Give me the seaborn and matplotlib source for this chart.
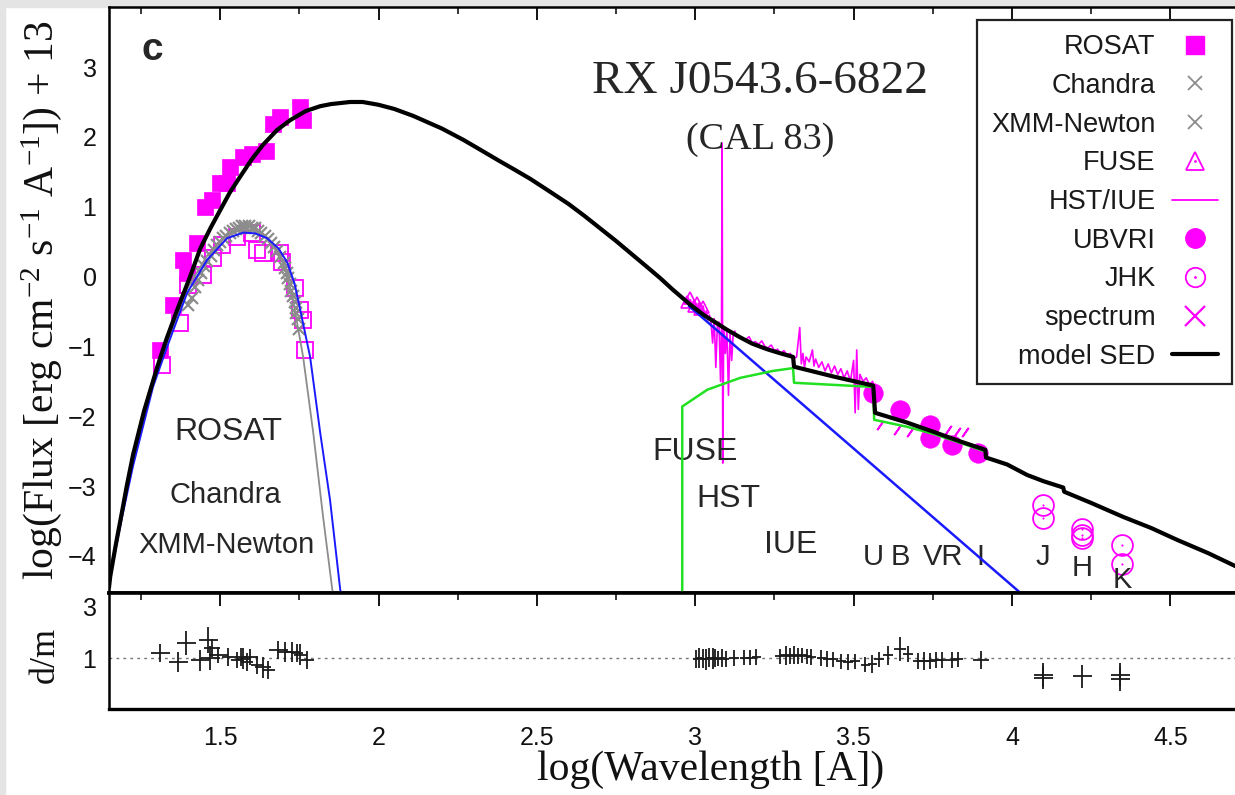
import numpy as np
import matplotlib
matplotlib.use("Agg")
import matplotlib.pyplot as plt
import seaborn as sns
from matplotlib.lines import Line2D
from matplotlib.patches import Rectangle
from matplotlib.ticker import MultipleLocator

# ---------------- data (log wavelength [A], log flux + 13) ----------------
model_x = [1.149, 1.153, 1.17, 1.19, 1.205, 1.225, 1.26, 1.301, 1.33, 1.364, 1.405, 1.437, 1.47,
           1.50, 1.53, 1.563, 1.60, 1.636, 1.68, 1.721, 1.77, 1.816, 1.85, 1.91, 1.95, 2.00,
           2.05, 2.11, 2.15, 2.20, 2.267, 2.32, 2.38, 2.43, 2.479, 2.54, 2.60, 2.65, 2.70, 2.75,
           2.80, 2.85, 2.889, 2.93, 2.984, 3.03, 3.069, 3.10, 3.142, 3.18, 3.227, 3.27, 3.309,
           3.312, 3.436, 3.562, 3.568, 3.669, 3.751, 3.837, 3.916, 3.918, 3.985, 4.048, 4.10,
           4.162, 4.165, 4.25, 4.351, 4.44, 4.522, 4.62, 4.717]
model_y = [-4.45, -4.29, -3.85, -3.37, -3.00, -2.55, -1.92, -1.30, -0.90, -0.48, 0.00, 0.40, 0.70,
           0.95, 1.20, 1.43, 1.68, 1.89, 2.10, 2.24, 2.37, 2.44, 2.47, 2.50, 2.50, 2.46,
           2.40, 2.30, 2.22, 2.12, 1.96, 1.82, 1.66, 1.53, 1.40, 1.22, 1.04, 0.87, 0.69, 0.51,
           0.32, 0.13, -0.02, -0.19, -0.40, -0.56, -0.67, -0.76, -0.87, -0.96, -1.04, -1.10, -1.15,
           -1.29, -1.43, -1.56, -1.95, -2.09, -2.22, -2.36, -2.48, -2.59, -2.69, -2.84, -2.93,
           -3.02, -3.08, -3.24, -3.44, -3.60, -3.77, -3.96, -4.17]

blue_left_x = [1.149, 1.153, 1.19, 1.225, 1.288, 1.333, 1.396, 1.459, 1.522, 1.573, 1.61, 1.648,
               1.685, 1.712, 1.735, 1.753, 1.784, 1.816, 1.847, 1.879, 1.885]
blue_left_y = [-4.40, -4.29, -3.45, -2.71, -1.58, -1.00, -0.23, 0.24, 0.55, 0.63, 0.62, 0.55,
               0.40, 0.20, -0.10, -0.48, -1.15, -2.24, -3.20, -4.48, -4.60]
blue_right_x = [2.98, 4.045]
blue_right_y = [-0.42, -4.60]

gray_x = [1.149, 1.153, 1.19, 1.225, 1.288, 1.333, 1.396, 1.459, 1.522, 1.573, 1.61, 1.648,
          1.685, 1.71, 1.73, 1.762, 1.794, 1.825, 1.854, 1.86]
gray_y = [-4.35, -4.25, -3.40, -2.66, -1.52, -0.94, -0.17, 0.30, 0.60, 0.68, 0.66, 0.56,
          0.36, 0.05, -0.33, -1.15, -2.24, -3.44, -4.48, -4.60]

green_x = [2.959, 2.959, 3.038, 3.142, 3.246, 3.309, 3.312, 3.562, 3.565, 3.669, 3.751, 3.837, 3.914]
green_y = [-4.60, -1.86, -1.62, -1.45, -1.35, -1.31, -1.52, -1.58, -2.05, -2.15, -2.25, -2.38, -2.50]

rosat_x = [1.311, 1.352, 1.383, 1.395, 1.427, 1.453, 1.475, 1.50, 1.522, 1.532, 1.573, 1.60,
           1.645, 1.667, 1.69, 1.753, 1.762]
rosat_y = [-1.05, -0.40, 0.24, 0.05, 0.48, 1.00, 1.10, 1.34, 1.34, 1.57, 1.71, 1.75,
           1.80, 2.19, 2.29, 2.43, 2.24]

rosat_open_x = [1.317, 1.374, 1.399, 1.446, 1.478, 1.506, 1.554, 1.601, 1.617, 1.636, 1.689,
                1.696, 1.737, 1.753, 1.762, 1.768]
rosat_open_y = [-1.26, -0.66, -0.12, 0.02, 0.27, 0.45, 0.57, 0.63, 0.38, 0.34, 0.34,
                0.21, -0.16, -0.48, -0.62, -1.05]

chandra_x = [1.40, 1.42, 1.44, 1.46, 1.48, 1.50, 1.52, 1.54, 1.56, 1.58, 1.60, 1.62, 1.64,
             1.66, 1.68, 1.70, 1.71, 1.72, 1.73, 1.74, 1.745, 1.75]
chandra_y = [-0.40, -0.15, 0.05, 0.22, 0.38, 0.50, 0.58, 0.65, 0.70, 0.72, 0.70, 0.66, 0.58,
             0.48, 0.36, 0.20, 0.05, -0.10, -0.28, -0.45, -0.60, -0.75]
xmm_x = [1.41, 1.43, 1.45, 1.47, 1.49, 1.51, 1.53, 1.55, 1.57, 1.59, 1.61, 1.63, 1.65, 1.67,
         1.69, 1.705, 1.715, 1.725, 1.735, 1.74]
xmm_y = [-0.30, -0.05, 0.15, 0.30, 0.45, 0.55, 0.62, 0.68, 0.73, 0.73, 0.69, 0.62, 0.54, 0.42,
         0.28, 0.12, -0.02, -0.20, -0.36, -0.52]

fuse_x = [2.975, 2.985, 2.995, 3.005, 3.015, 3.025]
fuse_y = [-0.36, -0.30, -0.42, -0.38, -0.47, -0.44]

hst_x = [2.975, 2.980, 2.985, 2.990, 2.995, 3.000, 3.005, 3.010, 3.015, 3.020, 3.025, 3.030,
         3.035, 3.040, 3.045, 3.050, 3.055, 3.060, 3.065, 3.070, 3.075, 3.080, 3.083, 3.085,
         3.087, 3.090, 3.095, 3.100, 3.105, 3.110, 3.115, 3.120, 3.125, 3.130, 3.140, 3.150,
         3.160, 3.170, 3.180, 3.190, 3.200, 3.210, 3.220, 3.230, 3.240, 3.250, 3.260, 3.270,
         3.280, 3.290, 3.300, 3.310, 3.320, 3.330, 3.335, 3.340, 3.345, 3.350, 3.360, 3.370,
         3.375, 3.380, 3.390, 3.400, 3.410, 3.420, 3.430, 3.440, 3.450, 3.460, 3.470, 3.480,
         3.490, 3.500, 3.505, 3.510, 3.515, 3.520, 3.530, 3.540, 3.550, 3.560, 3.570, 3.580]
hst_y = [-0.30, -0.42, -0.33, -0.45, -0.36, -0.40, -0.50, -0.38, -0.47, -0.52, -0.42, -0.58,
         -0.49, -0.62, -0.55, -0.66, -0.95, -0.60, -1.30, -0.70, -0.65, -1.50, -0.75, 1.91,
         -2.67, -0.72, -1.10, -0.76, -1.70, -0.80, -1.20, -0.82, -0.78, -0.86, -0.85, -0.88,
         -0.90, -0.86, -0.95, -0.93, -0.97, -0.92, -1.00, -1.02, -0.98, -1.06, -1.04, -1.10,
         -1.06, -1.12, -1.10, -1.18, -1.15, -0.73, -1.25, -1.10, -1.30, -1.15, -1.22, -1.05,
         -1.28, -1.18, -1.30, -1.22, -1.35, -1.25, -1.38, -1.28, -1.40, -1.32, -1.45, -1.35,
         -1.50, -1.20, -1.95, -1.05, -1.90, -1.40, -1.50, -1.45, -1.55, -1.50, -1.65, -1.70]

ubvri_x = [3.562, 3.647, 3.742, 3.742, 3.811, 3.893]
ubvri_y = [-1.66, -1.91, -2.12, -2.31, -2.41, -2.53]

jhk_x = [4.099, 4.099, 4.222, 4.222, 4.222, 4.348, 4.348]
jhk_y = [-3.27, -3.45, -3.62, -3.70, -3.74, -3.84, -4.12]

spec_x = [3.584, 3.638, 3.679, 3.799, 3.827, 3.852]
spec_y = [-2.12, -2.19, -2.22, -2.19, -2.22, -2.22]

res_x = [1.311, 1.367, 1.393, 1.437, 1.462, 1.468, 1.475, 1.494, 1.525, 1.554, 1.565, 1.573,
         1.585, 1.595, 1.617, 1.636, 1.652, 1.683, 1.705, 1.727, 1.743, 1.753, 1.775,
         3.003, 3.012, 3.025, 3.035, 3.044, 3.057, 3.063, 3.073, 3.085, 3.098, 3.123, 3.155,
         3.174, 3.193, 3.268, 3.287, 3.300, 3.312, 3.325, 3.337, 3.353, 3.366, 3.398, 3.417,
         3.436, 3.461, 3.483, 3.505, 3.537, 3.559, 3.581, 3.609, 3.647, 3.672, 3.704, 3.723,
         3.742, 3.761, 3.780, 3.811, 3.830, 3.903, 4.099, 4.099, 4.222, 4.342, 4.342]
res_y = [1.19, 0.85, 1.58, 0.92, 1.69, 1.00, 1.38, 1.12, 1.04, 0.92, 1.05, 0.98,
         0.85, 1.04, 0.73, 0.65, 0.54, 1.31, 1.23, 1.23, 1.19, 1.12, 0.92,
         0.95, 1.00, 0.98, 0.95, 1.02, 0.97, 1.00, 0.98, 1.00, 0.97, 1.00, 1.02,
         1.02, 1.03, 1.06, 1.10, 1.08, 1.12, 1.08, 1.10, 1.06, 1.05, 1.00, 0.97,
         0.95, 0.87, 0.85, 0.87, 0.75, 0.78, 0.95, 1.10, 1.35, 1.15, 0.88, 0.90,
         0.88, 0.92, 0.92, 0.92, 0.95, 0.92, 0.35, 0.25, 0.30, 0.35, 0.19]
res_xerr = [0.030, 0.030, 0.030, 0.030, 0.030, 0.030, 0.025, 0.030, 0.020, 0.020, 0.020, 0.020,
            0.020, 0.020, 0.020, 0.025, 0.020, 0.030, 0.025, 0.025, 0.020, 0.020, 0.020,
            0.010, 0.010, 0.010, 0.010, 0.010, 0.010, 0.010, 0.010, 0.010, 0.010, 0.015, 0.015,
            0.015, 0.015, 0.015, 0.015, 0.015, 0.015, 0.015, 0.015, 0.015, 0.015, 0.015, 0.015,
            0.015, 0.015, 0.015, 0.015, 0.015, 0.015, 0.015, 0.015, 0.020, 0.015, 0.015, 0.015,
            0.015, 0.015, 0.015, 0.015, 0.015, 0.025, 0.030, 0.030, 0.030, 0.030, 0.030]
res_yerr = [0.35, 0.40, 0.45, 0.40, 0.50, 0.45, 0.35, 0.30, 0.35, 0.30, 0.35, 0.40,
            0.35, 0.30, 0.35, 0.40, 0.35, 0.35, 0.40, 0.40, 0.35, 0.40, 0.35,
            0.35, 0.40, 0.35, 0.40, 0.35, 0.40, 0.35, 0.30, 0.35, 0.30, 0.30, 0.30,
            0.30, 0.30, 0.30, 0.35, 0.30, 0.35, 0.30, 0.30, 0.30, 0.30, 0.30, 0.30,
            0.30, 0.30, 0.30, 0.30, 0.30, 0.35, 0.30, 0.35, 0.45, 0.30, 0.30, 0.35,
            0.30, 0.30, 0.30, 0.30, 0.30, 0.35, 0.45, 0.45, 0.45, 0.45, 0.45]

legend_labels = ["ROSAT", "Chandra", "XMM-Newton", "FUSE", "HST/IUE", "UBVRI", "JHK",
                 "spectrum", "model SED"]

# ---------------- style ----------------
sns.set_theme(style="white")
plt.rcParams["font.family"] = ["Liberation Sans", "DejaVu Sans"]
plt.rcParams["mathtext.fontset"] = "custom"
plt.rcParams["mathtext.rm"] = "Liberation Serif"
plt.rcParams["mathtext.default"] = "regular"
plt.rcParams["axes.edgecolor"] = "black"

MAG = "#ff00ff"
GRAY = "#8c8c8c"
BLUE = "#1a1aff"
GREEN = "#22e022"
SERIF = ["Liberation Serif", "DejaVu Serif"]

W, H = 1235, 795
fig = plt.figure(figsize=(W / 100, H / 100), dpi=100, facecolor="white")
fig.patches.append(Rectangle((0, 0), 5 / W, 1, transform=fig.transFigure,
                             color="#e4e4e4", zorder=-5))
fig.patches.append(Rectangle((0, 1 - 7 / H), 1, 7 / H, transform=fig.transFigure,
                             color="#e4e4e4", zorder=-5))

ax1 = fig.add_axes([109 / W, 1 - 593 / H, 1130 / W, 586 / H])
ax2 = fig.add_axes([109 / W, 1 - 709 / H, 1130 / W, 116 / H])


def line(ax, x, y, **kw):
    sns.lineplot(x=x, y=y, ax=ax, sort=False, estimator=None, errorbar=None,
                 legend=False, **kw)


def pts(ax, x, y, **kw):
    sns.lineplot(x=x, y=y, ax=ax, sort=False, estimator=None, errorbar=None,
                 legend=False, linestyle="none", **kw)


# markers
pts(ax1, rosat_x, rosat_y, marker="s", markersize=12, color=MAG,
    markerfacecolor=MAG, markeredgecolor=MAG, markeredgewidth=0.5, zorder=2)
pts(ax1, rosat_open_x, rosat_open_y, marker="s", markersize=12, color=MAG,
    markerfacecolor="none", markeredgecolor=MAG, markeredgewidth=1.3, zorder=2)
pts(ax1, chandra_x, chandra_y, marker="x", markersize=8, color=GRAY,
    markeredgecolor=GRAY, markeredgewidth=1.6, zorder=3)
pts(ax1, xmm_x, xmm_y, marker="x", markersize=8, color=GRAY,
    markeredgecolor=GRAY, markeredgewidth=1.6, zorder=3)
pts(ax1, fuse_x, fuse_y, marker="^", markersize=9, color=MAG,
    markerfacecolor="none", markeredgecolor=MAG, markeredgewidth=1.2, zorder=3)
pts(ax1, ubvri_x, ubvri_y, marker="o", markersize=14, color=MAG,
    markerfacecolor=MAG, markeredgecolor=MAG, markeredgewidth=0.5, zorder=3)
pts(ax1, jhk_x, jhk_y, marker="o", markersize=15, color=MAG,
    markerfacecolor="none", markeredgecolor=MAG, markeredgewidth=1.3, zorder=3)
pts(ax1, jhk_x, jhk_y, marker=".", markersize=2, color=MAG,
    markerfacecolor=MAG, markeredgecolor=MAG, markeredgewidth=0.5, zorder=3)
pts(ax1, spec_x, spec_y, marker=(2, 2, -35), markersize=8, color=MAG,
    markeredgecolor=MAG, markeredgewidth=1.3, zorder=3)

# lines
line(ax1, hst_x, hst_y, color=MAG, linewidth=1.2, zorder=3)
line(ax1, gray_x, gray_y, color=GRAY, linewidth=1.3, zorder=4)
line(ax1, blue_left_x, blue_left_y, color=BLUE, linewidth=1.4, zorder=4)
line(ax1, blue_right_x, blue_right_y, color=BLUE, linewidth=1.8, zorder=4)
line(ax1, green_x, green_y, color=GREEN, linewidth=1.8, zorder=4)
line(ax1, model_x, model_y, color="black", linewidth=3.0, zorder=6)

ax1.set_xlim(1.149, 4.717)
ax1.set_ylim(-4.53, 3.86)

# texts
ax1.text(1.285, 3.24, "c", fontsize=28, fontweight="bold", ha="center", va="center")
ax1.text(3.205, 2.79, "RX J0543.6-6822", family=SERIF, fontsize=34, ha="center", va="center")
ax1.text(3.205, 1.96, "(CAL 83)", family=SERIF, fontsize=27.5, ha="center", va="center")
ax1.text(1.525, -2.22, "ROSAT", fontsize=23, ha="center", va="center")
ax1.text(1.516, -3.12, "Chandra", fontsize=21, ha="center", va="center")
ax1.text(1.519, -3.84, "XMM-Newton", fontsize=21, ha="center", va="center")
ax1.text(3.00, -2.51, "FUSE", fontsize=23, ha="center", va="center")
ax1.text(3.104, -3.19, "HST", fontsize=23, ha="center", va="center")
ax1.text(3.30, -3.84, "IUE", fontsize=23, ha="center", va="center")
for lab, xx in [("U", 3.562), ("B", 3.647), ("VR", 3.783), ("I", 3.90)]:
    ax1.text(xx, -4.01, lab, fontsize=21, ha="center", va="center")
for lab, xx, yy in [("J", 4.099, -4.01), ("H", 4.222, -4.17), ("K", 4.348, -4.34)]:
    ax1.text(xx, yy, lab, fontsize=21, ha="center", va="center")

# residual panel
ax2.axhline(1.0, color="#777777", linewidth=1.0, linestyle=(0, (2, 3)), zorder=1)
ax2.errorbar(res_x, res_y, xerr=res_xerr, yerr=res_yerr, fmt="none",
             ecolor="#1a1a1a", elinewidth=1.3, capsize=0, zorder=3)
ax2.set_xlim(1.149, 4.717)
ax2.set_ylim(-0.96, 3.5)

# axes styling
for ax in (ax1, ax2):
    ax.xaxis.set_major_locator(MultipleLocator(0.5))
    ax.xaxis.set_minor_locator(MultipleLocator(0.25))
    ax.tick_params(which="both", direction="in", top=True, right=False, color="black",
                   labelsize=18, labelcolor="#111111")
    ax.tick_params(which="major", length=9, width=1.3)
    ax.tick_params(which="minor", length=5, width=1.1)
    ax.tick_params(axis="y", pad=9)
    ax.set_facecolor("white")
    for s in ax.spines.values():
        s.set_linewidth(1.8)
        s.set_color("black")
ax1.yaxis.set_major_locator(MultipleLocator(1))
ax1.yaxis.set_minor_locator(MultipleLocator(0.5))
ax1.tick_params(axis="x", labelbottom=False)
ax1.spines["bottom"].set_linewidth(2.6)
ax2.spines["top"].set_linewidth(2.6)
ax2.spines["bottom"].set_linewidth(2.4)
ax2.set_yticks([1, 3])
ax2.yaxis.set_minor_locator(plt.NullLocator())
ax2.tick_params(axis="x", pad=12)
ax2.set_xticks([1.5, 2, 2.5, 3, 3.5, 4, 4.5])
ax2.set_xticklabels(["1.5", "2", "2.5", "3", "3.5", "4", "4.5"])
ax2.set_xlim(1.149, 4.717)

ax1.set_ylabel(r"log(Flux [erg cm$^{-2}$ s$^{-1}$ A$^{-1}$]) + 13", family=SERIF,
               fontsize=30, color="#111111")
ax1.yaxis.set_label_coords(-0.0593, 0.50)
ax1.yaxis.label.set_va("center")
ax2.set_ylabel("d/m", family=SERIF, fontsize=26, color="#111111")
ax2.yaxis.set_label_coords(-0.0566, 0.466)
ax2.yaxis.label.set_va("center")
ax2.set_xlabel("log(Wavelength [A])", family=SERIF, fontsize=30, color="#111111")
ax2.xaxis.set_label_coords(0.532, -0.52)
ax2.xaxis.label.set_va("center")

# legend (gnuplot style: text right-aligned, symbol on the right)
handles = [
    Line2D([], [], marker="s", linestyle="none", color=MAG, markersize=13),
    Line2D([], [], marker="x", linestyle="none", color=GRAY, markersize=10, markeredgewidth=1.3),
    Line2D([], [], marker="x", linestyle="none", color=GRAY, markersize=10, markeredgewidth=1.3),
    (Line2D([], [], marker="^", linestyle="none", markerfacecolor="none", markeredgecolor=MAG,
            markersize=13, markeredgewidth=1.3),
     Line2D([], [], marker=".", linestyle="none", color=MAG, markersize=2)),
    Line2D([], [], color=MAG, linewidth=1.3),
    Line2D([], [], marker="o", linestyle="none", color=MAG, markersize=14),
    (Line2D([], [], marker="o", linestyle="none", markerfacecolor="none", markeredgecolor=MAG,
            markersize=14, markeredgewidth=1.3),
     Line2D([], [], marker=".", linestyle="none", color=MAG, markersize=2)),
    Line2D([], [], marker="x", linestyle="none", color=MAG, markersize=14, markeredgewidth=1.6),
    Line2D([], [], color="black", linewidth=3.0),
]
leg = fig.legend(handles, legend_labels, loc="upper right",
                 bbox_to_anchor=(1232 / W, 1 - 20 / H), borderaxespad=0,
                 markerfirst=False, frameon=True, fancybox=False, shadow=False,
                 prop={"family": ["Liberation Sans", "DejaVu Sans"], "size": 19.5},
                 labelspacing=0.47, borderpad=0.52, handlelength=1.7, handletextpad=0.6,
                 labelcolor="#1a1a1a")
leg.get_frame().set_edgecolor("#222222")
leg.get_frame().set_linewidth(1.6)
leg.get_frame().set_alpha(1.0)

fig.savefig("out.png", dpi=100, facecolor="white")
